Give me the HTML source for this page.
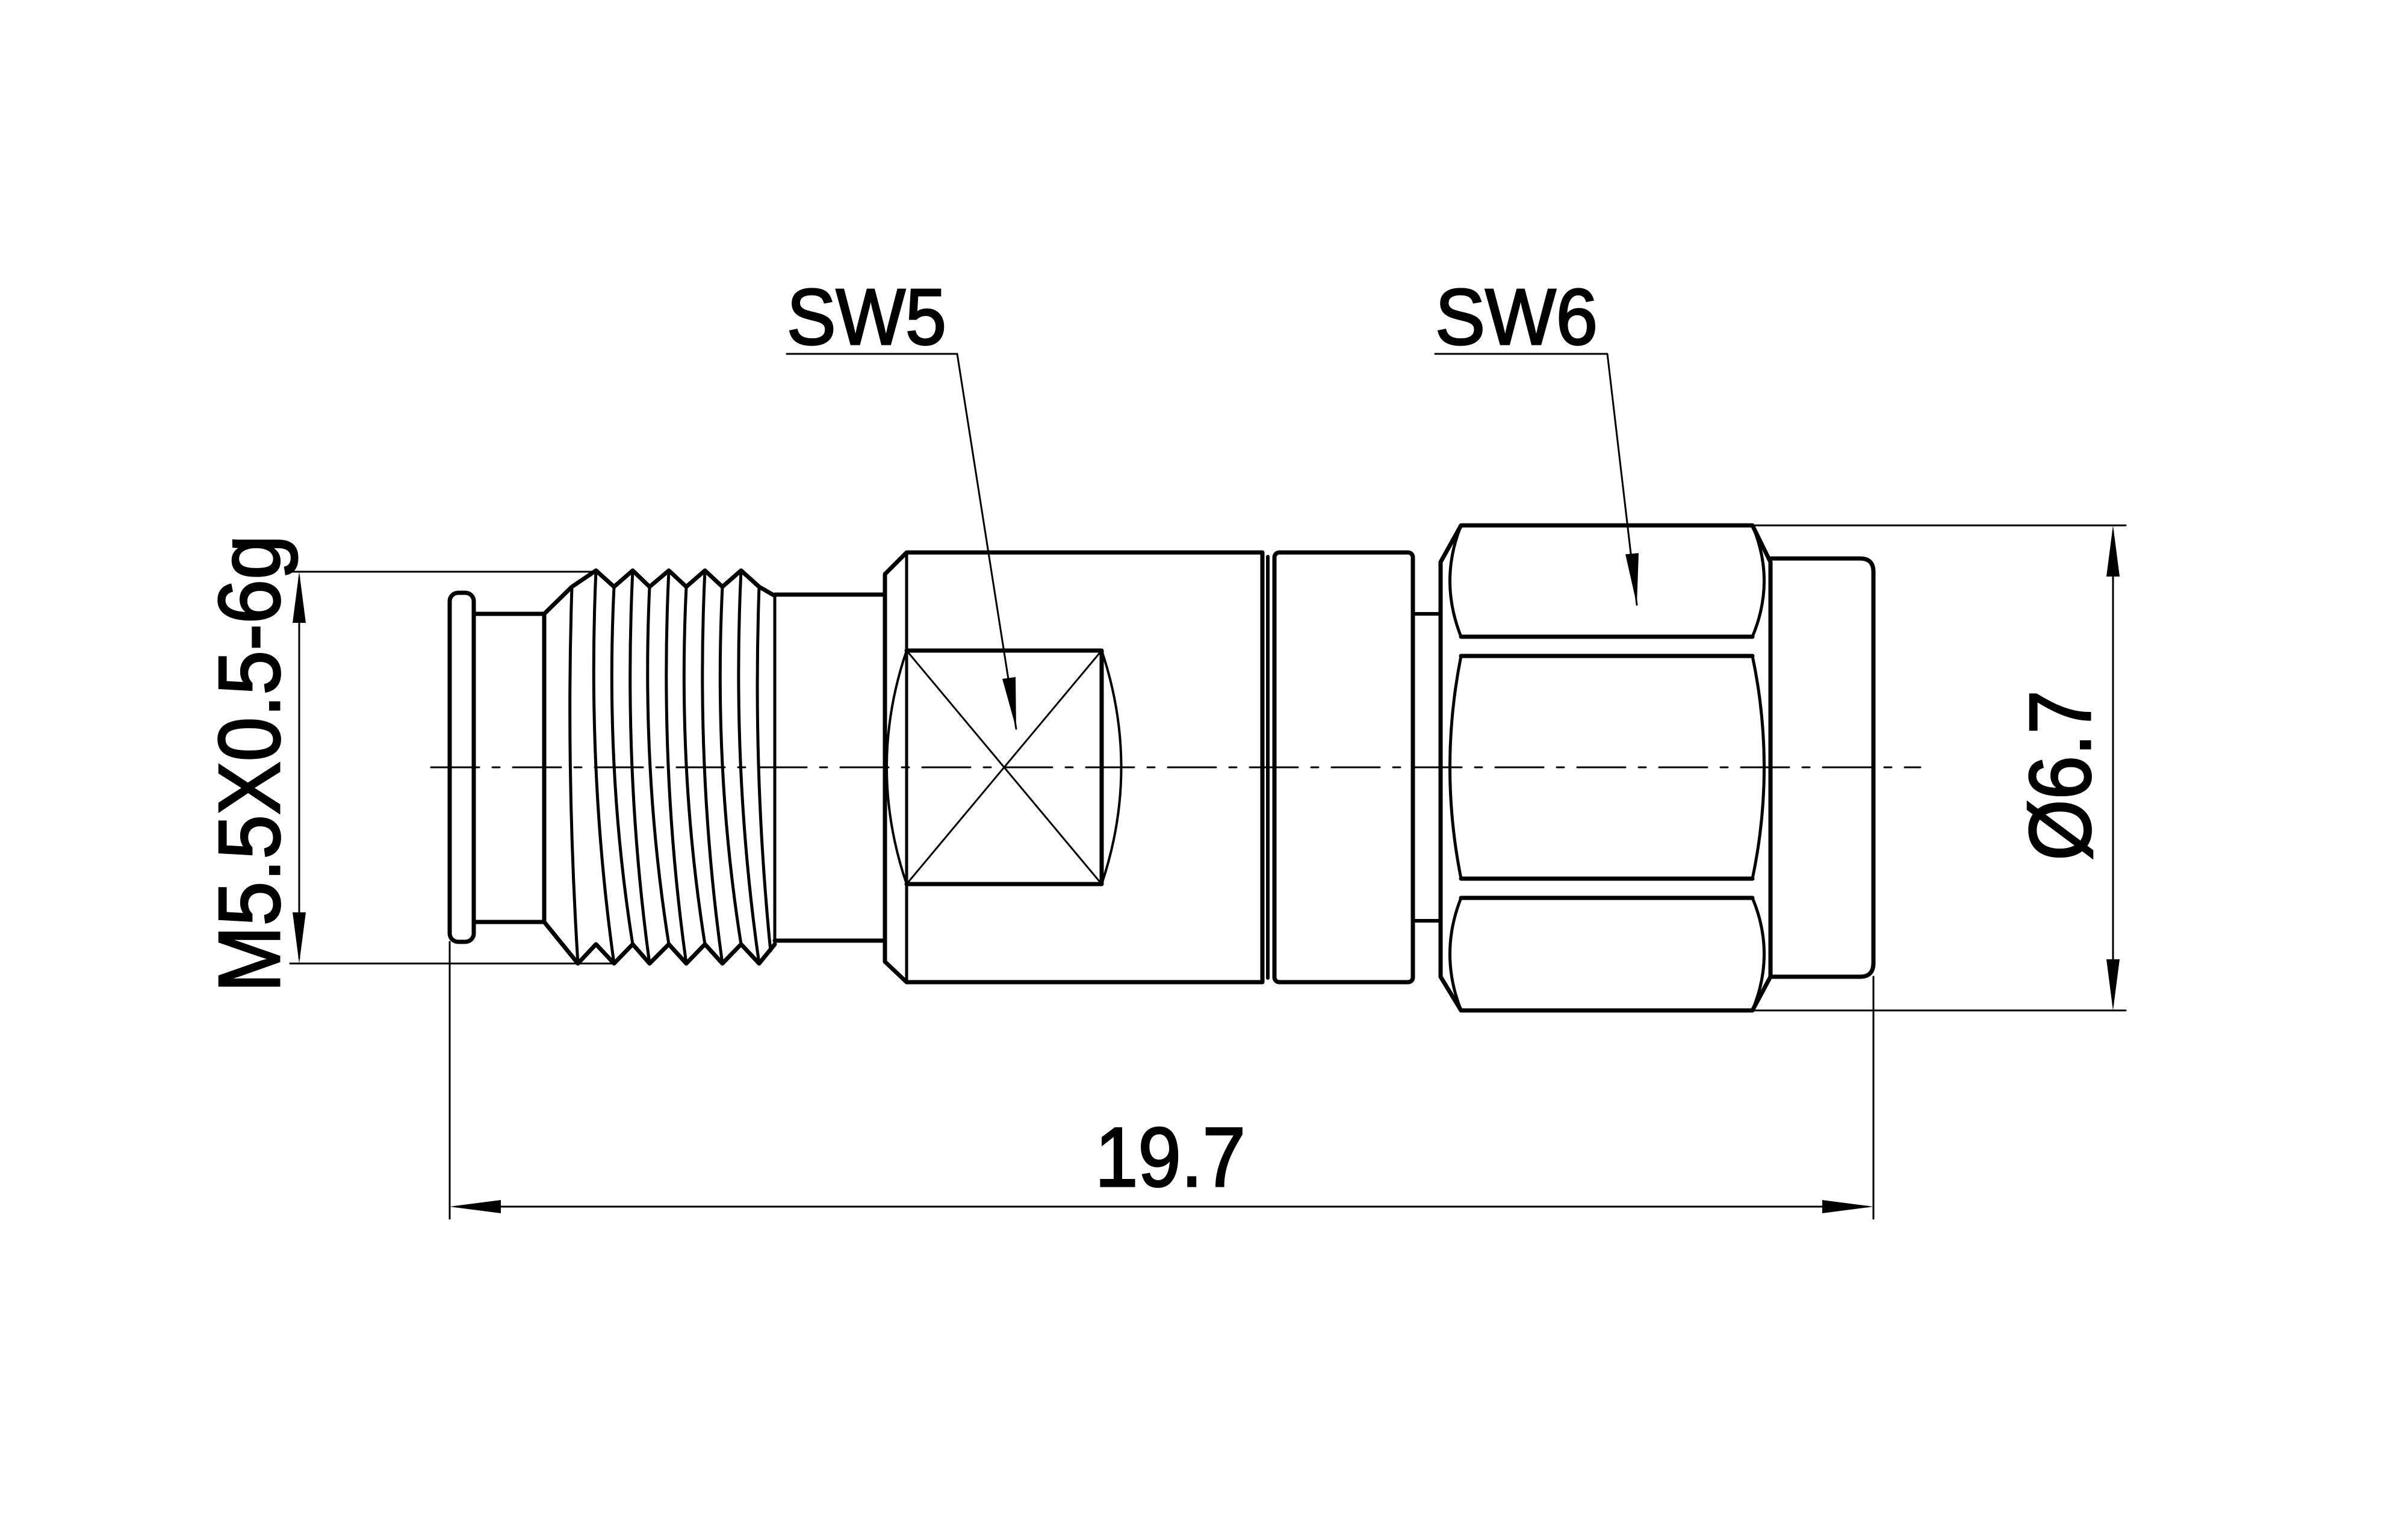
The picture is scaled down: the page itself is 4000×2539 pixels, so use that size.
<!DOCTYPE html>
<html><head><meta charset="utf-8"><style>html,body{margin:0;padding:0;background:#fff}svg{display:block}</style></head>
<body>
<svg xmlns="http://www.w3.org/2000/svg" width="4000" height="2539" viewBox="0 0 4000 2539">
<rect width="4000" height="2539" fill="#fff"/>
<g fill="none" stroke="#000" stroke-linejoin="round" stroke-linecap="round">
<line x1="716" y1="1275" x2="3190" y2="1275" stroke-width="3" stroke-dasharray="80 22 12 22"/>
<rect x="747" y="985" width="40" height="580" rx="14" stroke-width="7"/>
<polyline points="787,1020 904,1020 904,1532 787,1532" stroke-width="7"/>
<polyline stroke-width="7" points="904,1020 950,975 990,948 1020,975 1051,948 1079,975 1111,948 1140,975 1171,948 1200,975 1231,948 1261,975 1287,990"/>
<polyline stroke-width="7" points="904,1532 960,1601 990,1569 1020,1601 1051,1569 1079,1601 1111,1569 1140,1601 1171,1569 1200,1601 1231,1569 1261,1601 1287,1569"/>
<g stroke-width="5">
<path d="M950,975 Q940,1280 960,1601"/>
<path d="M990,948 Q975,1280 1020,1601"/>
<path d="M1020,975 Q1005,1280 1051,1569"/>
<path d="M1051,948 Q1035,1280 1079,1601"/>
<path d="M1079,975 Q1065,1280 1111,1569"/>
<path d="M1111,948 Q1095,1280 1140,1601"/>
<path d="M1140,975 Q1125,1280 1171,1569"/>
<path d="M1171,948 Q1155,1280 1200,1601"/>
<path d="M1200,975 Q1185,1280 1231,1569"/>
<path d="M1231,948 Q1215,1280 1261,1601"/>
<path d="M1261,975 Q1250,1280 1280,1580"/>
<line x1="1287" y1="988" x2="1287" y2="1569"/>
</g>
<polyline points="1287,988 1470,988" stroke-width="7"/>
<polyline points="1287,1563 1470,1563" stroke-width="7"/>
<polygon points="1470,954 1506,918 2097,918 2097,1632 1506,1632 1470,1598" stroke-width="7"/>
<line x1="1506" y1="918" x2="1506" y2="1632" stroke-width="5"/>
<polyline points="1506,1081 1830,1081 1830,1469 1506,1469" stroke-width="7"/>
<line x1="1506" y1="1081" x2="1830" y2="1469" stroke-width="3"/>
<line x1="1830" y1="1081" x2="1506" y2="1469" stroke-width="3"/>
<path d="M1830,1081 Q1895,1275 1830,1469" stroke-width="4"/>
<path d="M1506,1081 Q1440,1275 1506,1469" stroke-width="4"/>
<line x1="2106" y1="925" x2="2106" y2="1625" stroke-width="6"/>
<rect x="2117" y="918" width="230" height="714" rx="8" stroke-width="7"/>
<line x1="2347" y1="1020" x2="2393" y2="1020" stroke-width="6"/>
<line x1="2347" y1="1530" x2="2393" y2="1530" stroke-width="6"/>
<polygon points="2393,934 2427,873 2911,873 2941,934 2941,1623 2911,1679 2427,1679 2393,1623" stroke-width="7"/>
<g stroke-width="5">
<path d="M2427,873 Q2390,965 2427,1058"/>
<path d="M2427,1090 Q2390,1275 2427,1460"/>
<path d="M2427,1492 Q2390,1585 2427,1679"/>
<path d="M2911,873 Q2950,965 2911,1058"/>
<path d="M2911,1090 Q2950,1275 2911,1460"/>
<path d="M2911,1492 Q2950,1585 2911,1679"/>
</g>
<g stroke-width="7">
<line x1="2427" y1="1058" x2="2911" y2="1058"/>
<line x1="2427" y1="1090" x2="2911" y2="1090"/>
<line x1="2427" y1="1460" x2="2911" y2="1460"/>
<line x1="2427" y1="1492" x2="2911" y2="1492"/>
</g>
<path d="M2941,928 L3090,928 Q3112,928 3112,950 L3112,1600 Q3112,1623 3090,1623 L2941,1623" stroke-width="7"/>
<g stroke-width="3">
<line x1="482" y1="950" x2="990" y2="950"/>
<line x1="482" y1="1601" x2="1020" y2="1601"/>
<line x1="497" y1="960" x2="497" y2="1592"/>
<line x1="2911" y1="873" x2="3531" y2="873"/>
<line x1="2911" y1="1679" x2="3531" y2="1679"/>
<line x1="3510" y1="883" x2="3510" y2="1669"/>
<line x1="747" y1="1565" x2="747" y2="2025"/>
<line x1="3112" y1="1623" x2="3112" y2="2025"/>
<line x1="757" y1="2005" x2="3102" y2="2005"/>
<polyline points="1307,588 1590,588 1688,1211"/>
<polyline points="2384,588 2670,588 2719,1005"/>
</g>
</g>
<g fill="#000">
<polygon points="497,950 486,1035 508,1035"/>
<polygon points="497,1601 486,1516 508,1516"/>
<polygon points="3510,873 3499,958 3521,958"/>
<polygon points="3510,1679 3499,1594 3521,1594"/>
<polygon points="747,2005 832,1994 832,2016"/>
<polygon points="3112,2005 3027,1994 3027,2016"/>
<polygon points="1688,1211 1665,1128 1687,1125"/>
<polygon points="2719,1005 2700,921 2722,919"/>
</g>
<g font-family="Liberation Sans, sans-serif" fill="#000" stroke="#000" stroke-width="3">
<text x="1307" y="572" font-size="132" textLength="265" lengthAdjust="spacingAndGlyphs">SW5</text>
<text x="2384" y="572" font-size="132" textLength="270" lengthAdjust="spacingAndGlyphs">SW6</text>
<text x="1819" y="1971" font-size="140" textLength="250" lengthAdjust="spacingAndGlyphs">19.7</text>
<text transform="translate(464,1649) rotate(-90)" font-size="145" textLength="760" lengthAdjust="spacingAndGlyphs">M5.5X0.5-6g</text>
<text transform="translate(3472,1430) rotate(-90)" font-size="145" textLength="283" lengthAdjust="spacingAndGlyphs">Ø6.7</text>
</g>
</svg>
</body></html>
